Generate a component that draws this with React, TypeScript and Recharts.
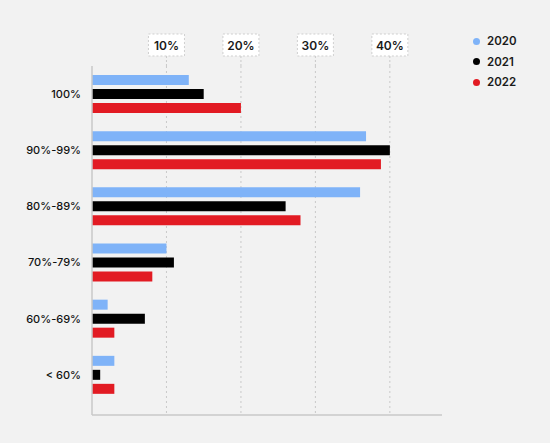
import { BarChart, Bar, XAxis, YAxis, CartesianGrid, Legend } from "recharts";

const categories = ["100%", "90%-99%", "80%-89%", "70%-79%", "60%-69%", "< 60%"];
const values2020 = [13, 36.8, 36, 10, 2.1, 3];
const values2021 = [15, 40, 26, 11, 7.1, 1.1];
const values2022 = [20, 38.8, 28, 8.1, 3, 3];
const xTicks = [10, 20, 30, 40];

const SERIES = [
  { key: "y2020", name: "2020", color: "#7fb3f8" },
  { key: "y2021", name: "2021", color: "#000000" },
  { key: "y2022", name: "2022", color: "#e21b23" },
];

const FONT = "Inter, 'Noto Sans', sans-serif";

const data = categories.map((c, i) => ({
  category: c,
  y2020: values2020[i],
  y2021: values2021[i],
  y2022: values2022[i],
}));

function TopTick(props: any) {
  const { x, y, payload } = props;
  return (
    <g>
      <rect
        x={x - 18}
        y={y - 22}
        width={36}
        height={22}
        fill="#ffffff"
        stroke="#cfcfcf"
        strokeDasharray="2 2"
      />
      <text
        x={x}
        y={y - 11}
        textAnchor="middle"
        dominantBaseline="central"
        fontFamily={FONT}
        fontSize={12}
        fontWeight={600}
        fill="#1a1a1a"
      >
        {`${payload.value}%`}
      </text>
    </g>
  );
}

function LegendContent() {
  return (
    <div style={{ fontFamily: FONT }}>
      {SERIES.map((s) => (
        <div key={s.key} style={{ display: "flex", alignItems: "center", height: 20.5 }}>
          <div style={{ width: 7, height: 7, borderRadius: "50%", background: s.color, marginRight: 7 }} />
          <span style={{ fontSize: 11.5, fontWeight: 600, color: "#1a1a1a" }}>{s.name}</span>
        </div>
      ))}
    </div>
  );
}

export default function App() {
  return (
    <div style={{ width: 550, height: 443, background: "#f2f2f2", position: "relative" }}>
      <style>{"body{margin:0}"}</style>
      <BarChart
        width={550}
        height={443}
        data={data}
        layout="vertical"
        margin={{ top: 0, right: 108, bottom: 27, left: 0 }}
        barSize={10}
        barGap={4}
      >
        <CartesianGrid horizontal={false} syncWithTicks stroke="#c9c9c9" strokeDasharray="2 3" />
        <XAxis
          type="number"
          orientation="top"
          domain={[0, 47]}
          ticks={xTicks}
          height={66}
          axisLine={false}
          tickSize={10}
          tickMargin={0}
          tickLine={{ stroke: "#c9c9c9", strokeDasharray: "2 2" }}
          tick={<TopTick />}
          interval={0}
        />
        <XAxis
          xAxisId="bottom"
          type="number"
          orientation="bottom"
          domain={[0, 47]}
          height={1}
          tick={false}
          tickLine={false}
          axisLine={{ stroke: "#c8c8c8", strokeWidth: 1.5 }}
        />
        <YAxis
          type="category"
          dataKey="category"
          width={92}
          axisLine={{ stroke: "#c8c8c8", strokeWidth: 1.5 }}
          tickLine={false}
          tickSize={0}
          tickMargin={11}
          padding={{ top: 0, bottom: 12 }}
          tick={{ fontFamily: FONT, fontSize: 11, fontWeight: 550, fill: "#111111" }}
        />
        <Legend
          layout="horizontal"
          verticalAlign="middle"
          align="center"
          content={<LegendContent />}
          wrapperStyle={{ position: "absolute", top: 31, left: 473, width: 70 }}
        />
        {SERIES.map((s) => (
          <Bar key={s.key} dataKey={s.key} name={s.name} fill={s.color} isAnimationActive={false} />
        ))}
      </BarChart>
    </div>
  );
}
